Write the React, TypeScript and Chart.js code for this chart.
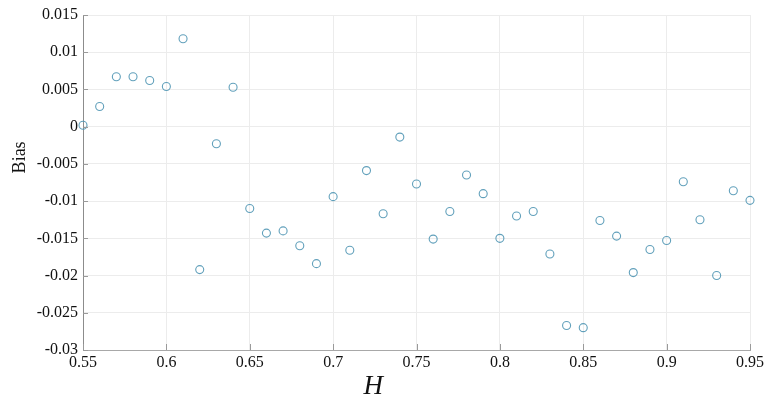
import React, { useEffect, useRef } from "react";
import { Chart, registerables } from "chart.js";

Chart.register(...registerables);

// Bias estimates against the parameter H
const hValues = [
  0.55, 0.56, 0.57, 0.58, 0.59, 0.6, 0.61, 0.62, 0.63, 0.64, 0.65, 0.66, 0.67, 0.68,
  0.69, 0.7, 0.71, 0.72, 0.73, 0.74, 0.75, 0.76, 0.77, 0.78, 0.79, 0.8, 0.81, 0.82,
  0.83, 0.84, 0.85, 0.86, 0.87, 0.88, 0.89, 0.9, 0.91, 0.92, 0.93, 0.94, 0.95,
];
const biasValues = [
  0.0002, 0.0027, 0.0067, 0.0067, 0.0062, 0.0054, 0.0118, -0.0192, -0.0023, 0.0053,
  -0.011, -0.0143, -0.014, -0.016, -0.0184, -0.0094, -0.0166, -0.0059, -0.0117, -0.0014,
  -0.0077, -0.0151, -0.0114, -0.0065, -0.009, -0.015, -0.012, -0.0114, -0.0171, -0.0267,
  -0.027, -0.0126, -0.0147, -0.0196, -0.0165, -0.0153, -0.0074, -0.0125, -0.02, -0.0086,
  -0.0099,
];

const xTicks = [0.55, 0.6, 0.65, 0.7, 0.75, 0.8, 0.85, 0.9, 0.95];
const yTicks = [0.015, 0.01, 0.005, 0, -0.005, -0.01, -0.015, -0.02, -0.025, -0.03];

const xTitle = "H";
const yTitle = "Bias";

const SERIF = "'Liberation Serif', 'Times New Roman', serif";

// Short inward tick marks plus the two axis titles
const decorations = {
  id: "decorations",
  afterDatasetsDraw(chart: any) {
    const { ctx, chartArea, scales } = chart;
    const { left, right, top, bottom } = chartArea;
    ctx.save();
    ctx.strokeStyle = "#9a9a9a";
    ctx.lineWidth = 1;
    ctx.beginPath();
    for (const v of yTicks) {
      const y = Math.round(scales.y.getPixelForValue(v)) + 0.5;
      ctx.moveTo(left, y);
      ctx.lineTo(left + 5, y);
    }
    for (const v of xTicks) {
      const x = Math.round(scales.x.getPixelForValue(v)) + 0.5;
      ctx.moveTo(x, bottom);
      ctx.lineTo(x, bottom - 6);
    }
    ctx.stroke();

    ctx.fillStyle = "#111";
    ctx.font = `italic 27px ${SERIF}`;
    ctx.textAlign = "center";
    ctx.textBaseline = "alphabetic";
    ctx.fillText(xTitle, left + (right - left) * 0.435, chart.height - 2);

    ctx.font = `18px ${SERIF}`;
    ctx.translate(20, top + (bottom - top) * 0.425);
    ctx.rotate(-Math.PI / 2);
    ctx.textBaseline = "middle";
    ctx.fillText(yTitle, 0, 0);
    ctx.restore();
  },
};

export default function App() {
  const canvasRef = useRef<HTMLCanvasElement | null>(null);

  useEffect(() => {
    if (!canvasRef.current) return;
    const chart = new Chart(canvasRef.current, {
      type: "scatter",
      data: {
        datasets: [
          {
            label: yTitle,
            data: hValues.map((h, i) => ({ x: h, y: biasValues[i] })),
            pointStyle: "circle",
            pointRadius: 4,
            pointHoverRadius: 4,
            pointBorderWidth: 1.1,
            pointBorderColor: "rgba(80,150,180,0.9)",
            pointBackgroundColor: "rgba(0,0,0,0)",
            clip: false,
          },
        ],
      },
      options: {
        responsive: true,
        maintainAspectRatio: false,
        animation: false,
        layout: { padding: { top: 15, right: 27, left: 0, bottom: 0 } },
        plugins: {
          legend: { display: false },
          tooltip: { enabled: false },
        },
        scales: {
          x: {
            type: "linear",
            min: 0.55,
            max: 0.95,
            afterBuildTicks: (scale: any) => {
              scale.ticks = xTicks.map((v) => ({ value: v }));
            },
            afterFit: (scale: any) => {
              scale.height = 46;
            },
            ticks: {
              autoSkip: false,
              maxRotation: 0,
              padding: 3,
              color: "#111",
              font: { family: SERIF, size: 16 },
              callback: (v: any) => String(v),
            },
            grid: { color: "#ececec", drawTicks: false, lineWidth: 1 },
            border: { color: "#a8a8a8", width: 1 },
          },
          y: {
            type: "linear",
            min: -0.03,
            max: 0.015,
            afterBuildTicks: (scale: any) => {
              scale.ticks = yTicks.map((v) => ({ value: v }));
            },
            afterFit: (scale: any) => {
              scale.width = 83;
            },
            ticks: {
              autoSkip: false,
              padding: 5,
              color: "#111",
              font: { family: SERIF, size: 16 },
              callback: (v: any) => String(v),
            },
            grid: { color: "#ececec", drawTicks: false, lineWidth: 1 },
            border: { color: "#8c8c8c", width: 1 },
          },
        },
      },
      plugins: [decorations],
    });
    return () => chart.destroy();
  }, []);

  return (
    <div style={{ position: "fixed", left: 0, top: 0, width: 777, height: 396, background: "#fff" }}>
      <canvas ref={canvasRef} />
    </div>
  );
}
